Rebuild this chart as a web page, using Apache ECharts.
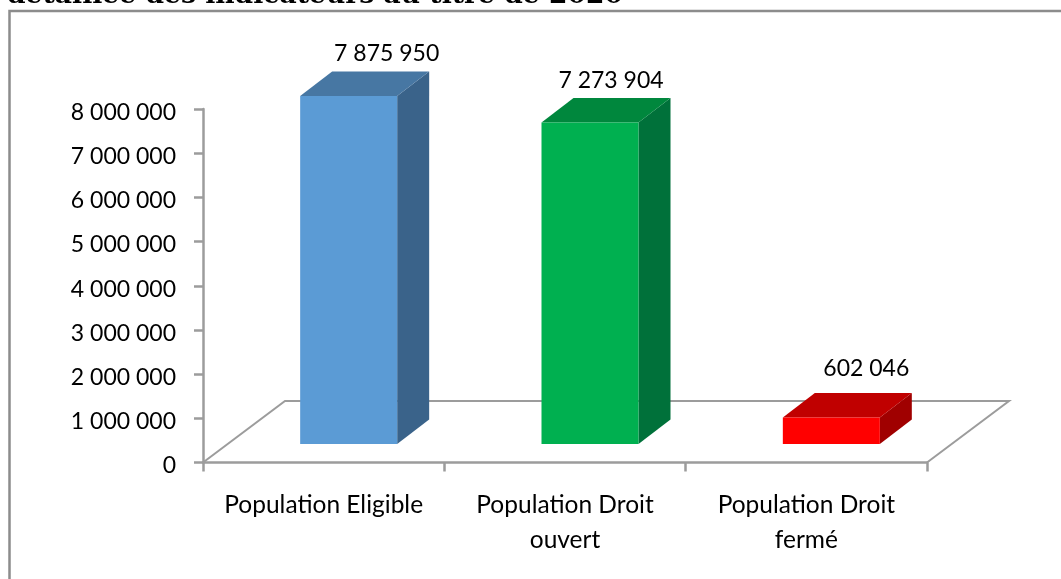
<!DOCTYPE html>
<html><head><meta charset="utf-8">
<style>html,body{margin:0;padding:0;background:#fff}#c{width:1061px;height:579px}</style>
<script src="https://cdn.jsdelivr.net/npm/echarts@6/dist/echarts.min.js"></script>
</head><body><div id="c"></div>
<script>
const titleText = 'détaillée des indicateurs au titre de 2020';
const categories = ['Population Eligible', 'Population Droit\nouvert', 'Population Droit\nfermé'];
const values = [7875950, 7273904, 602046];
const faceColors = ['#5B9BD5', '#00B050', '#FF0000'];
const topColors = ['#4777A3', '#00873D', '#C00000'];
const sideColors = ['#3A638A', '#00713A', '#A00000'];
const labelShiftX = [38, 21, 35];
const labelShiftY = [-6, -6, -13];

const fmt = v => String(v).replace(/\B(?=(\d{3})+(?!\d))/g, ' ');
const FONT = 'Lato';
const GREY = '#9C9C9C';
const FLOOR_DX = 82, FLOOR_DY = 61.5;
const BAR_DX = 25, BAR_DY = 18.5;
const DEPTH_DX = 32, DEPTH_DY = 24.5;
const BAR_W = 97;

const chart = echarts.init(document.getElementById('c'), null, {renderer: 'canvas'});

function renderFloor(params, api) {
  const cs = params.coordSys;
  const x0 = cs.x, x1 = cs.x + cs.width, y0 = cs.y + cs.height;
  return {
    type: 'polyline', silent: true,
    shape: {points: [[x0, y0], [x0 + FLOOR_DX, y0 - FLOOR_DY], [x1 + FLOOR_DX, y0 - FLOOR_DY], [x1, y0]]},
    style: {stroke: GREY, lineWidth: 2, fill: null}
  };
}

function renderBar(params, api) {
  const i = api.value(0);
  const base = api.coord([i, 0]);
  const topP = api.coord([i, api.value(1)]);
  const cx = base[0] + BAR_DX;
  const l = cx - BAR_W / 2, r = cx + BAR_W / 2;
  const b = base[1] - BAR_DY, t = topP[1] - BAR_DY;
  return {
    type: 'group',
    children: [
      {type: 'polygon', shape: {points: [[r, b], [r + DEPTH_DX, b - DEPTH_DY], [r + DEPTH_DX, t - DEPTH_DY], [r, t]]}, style: {fill: sideColors[i]}},
      {type: 'polygon', shape: {points: [[l, t], [l + DEPTH_DX, t - DEPTH_DY], [r + DEPTH_DX, t - DEPTH_DY], [r, t]]}, style: {fill: topColors[i]}},
      {type: 'rect', shape: {x: l, y: t, width: BAR_W, height: b - t}, style: {fill: faceColors[i]}},
      {type: 'text', style: {
        x: cx + labelShiftX[i], y: t - DEPTH_DY + labelShiftY[i],
        text: fmt(values[i]), fill: '#000', font: '23px ' + FONT,
        textAlign: 'center', textVerticalAlign: 'bottom'
      }}
    ]
  };
}

chart.setOption({
  animation: false,
  backgroundColor: '#fff',
  title: {
    text: titleText, left: 2, top: -22.5,
    textStyle: {fontFamily: 'DejaVu Serif', fontWeight: 'bold', fontSize: 26.6, color: '#000'}
  },
  grid: {left: 203, right: 134, top: 109, bottom: 116.5, containLabel: false},
  xAxis: {
    type: 'category', data: categories, boundaryGap: true,
    axisLine: {lineStyle: {color: GREY, width: 2.5}},
    axisTick: {show: true, length: 9, alignWithLabel: false, lineStyle: {color: GREY, width: 2.5}},
    axisLabel: {fontFamily: FONT, fontSize: 24.5, color: '#000', margin: 25, lineHeight: 35, interval: 0}
  },
  yAxis: {
    type: 'value', min: 0, max: 8000000, interval: 1000000,
    splitLine: {show: false},
    axisLine: {show: true, lineStyle: {color: GREY, width: 2.5}},
    axisTick: {show: true, length: 9, lineStyle: {color: GREY, width: 2.5}},
    axisLabel: {fontFamily: FONT, fontSize: 23, color: '#000', margin: 27, verticalAlign: 'top', lineHeight: 7, formatter: v => fmt(v)}
  },
  graphic: [
    {type: 'polyline', silent: true, shape: {points: [[9.5, 579], [9.5, 11], [1061, 11]]}, style: {stroke: '#8C8C8C', lineWidth: 2.5, fill: null}, z: 0}
  ],
  series: [
    {type: 'custom', coordinateSystem: 'cartesian2d', renderItem: renderFloor, data: [[0, 0]], silent: true, z: 1, encode: {x: 0, y: 1}, clip: false},
    {type: 'custom', coordinateSystem: 'cartesian2d', renderItem: renderBar, data: values.map((v, i) => [i, v]), z: 2, encode: {x: 0, y: 1}, clip: false}
  ]
});
</script></body></html>
